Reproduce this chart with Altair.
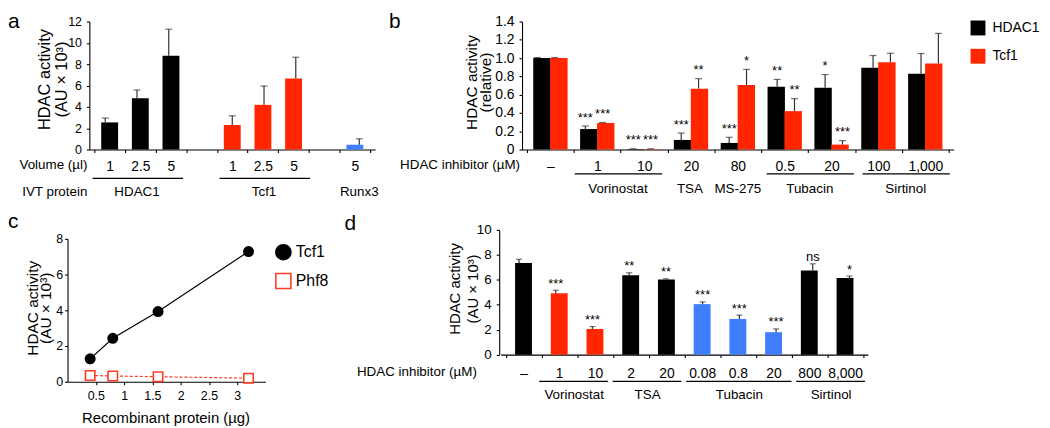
import altair as alt
import pandas as pd

FONT = "Liberation Sans"
BLACK = "#000000"
RED = "#ff2600"
RED2 = "#ff3b2a"
BLUE = "#3f7fff"
ERR = "#333333"
W, H = 1042, 420

# ---------------- panel a data ----------------
a_proteins = ["HDAC1", "Tcf1", "Runx3"]
a_volumes = [["1", "2.5", "5"], ["1", "2.5", "5"], ["5"]]
a_mean = [[2.54, 4.81, 8.8], [2.3, 4.19, 6.65], [0.45]]
a_top = [[2.95, 5.58, 11.28], [3.16, 5.95, 8.65], [1.0]]

# ---------------- panel b data ----------------
b_conc = ["–", "1", "10", "20", "80", "0.5", "20", "100", "1,000"]
b_drug = [None, "Vorinostat", "Vorinostat", "TSA", "MS-275", "Tubacin", "Tubacin", "Sirtinol", "Sirtinol"]
b_series = ["HDAC1", "Tcf1"]
b_hdac1 = [1.0, 0.224, 0.005, 0.105, 0.072, 0.687, 0.676, 0.894, 0.83]
b_hdac1_top = [1.006, 0.257, 0.008, 0.18, 0.134, 0.767, 0.82, 1.028, 1.05]
b_hdac1_sig = ["", "***", "***", "***", "***", "**", "*", "", ""]
b_tcf1 = [1.0, 0.29, 0.005, 0.666, 0.705, 0.42, 0.054, 0.955, 0.94]
b_tcf1_top = [1.006, 0.296, 0.008, 0.775, 0.876, 0.557, 0.098, 1.053, 1.27]
b_tcf1_sig = ["", "***", "***", "**", "*", "**", "***", "", ""]

# ---------------- panel c data ----------------
c_proteins = ["Tcf1", "Phf8"]
c_ug = [0.4, 0.8, 1.6, 3.2]
c_tcf1 = [1.28, 2.43, 3.93, 7.29]
c_phf8 = [0.35, 0.32, 0.28, 0.2]

# ---------------- panel d data ----------------
d_conc = ["–", "1", "10", "2", "20", "0.08", "0.8", "20", "800", "8,000"]
d_drug = ["control", "Vorinostat", "Vorinostat", "TSA", "TSA", "Tubacin", "Tubacin", "Tubacin", "Sirtinol", "Sirtinol"]
d_mean = [7.35, 4.92, 2.06, 6.37, 6.03, 4.05, 2.86, 1.8, 6.74, 6.14]
d_top = [7.65, 5.16, 2.25, 6.56, 6.08, 4.23, 3.17, 2.06, 7.28, 6.3]
d_sig = ["", "***", "***", "**", "**", "***", "***", "***", "ns", "*"]


def spans(names):
    out = []
    for i, n in enumerate(names):
        if n is None:
            continue
        if out and out[-1]["name"] == n and out[-1]["end"] == i - 1:
            out[-1]["end"] = i
        else:
            out.append({"name": n, "start": i, "end": i})
    for g in out:
        g["mid"] = (g["start"] + g["end"]) / 2
    return pd.DataFrame(out)


def cat_x(field, labels, rng, y0=None, pad=7, axis=True):
    n = len(labels)
    scale = alt.Scale(domain=[-0.5, n - 0.5], range=rng, nice=False, zero=False)
    if not axis:
        return alt.X(f"{field}:Q", scale=scale, axis=None)
    vals = [k / 2 - 0.5 for k in range(2 * n + 1)]
    arr = "[" + ",".join("'" + s + "'" for s in labels) + "]"
    ax = alt.Axis(
        orient="bottom", offset=y0 - H, values=vals,
        labelExpr=f"datum.value % 1 == 0 ? {arr}[datum.value] : ''",
        tickOpacity={"condition": {"test": "datum.value % 1 != 0", "value": 1}, "value": 0},
        tickSize=3, labelPadding=pad, labelFontSize=14, labelOverlap=False,
        labelFlush=False, title=None, grid=False,
    )
    return alt.X(f"{field}:Q", scale=scale, axis=ax)


def val_y(field, domain, rng, axis=None):
    return alt.Y(f"{field}:Q", scale=alt.Scale(domain=domain, range=rng, nice=False, zero=False),
                 axis=axis, stack=None)


def text_df(s):
    return pd.DataFrame({"t": [s]})


def row_label(s, labels, rng, y, dx, size=13.5):
    return alt.Chart(text_df(s)).transform_calculate(x0="-0.5").mark_text(
        fontSize=size, align="right", baseline="middle", dx=dx).encode(
        x=cat_x("x0", labels, rng, axis=False), y=alt.value(y), text="t:N")


# ================= panel a =================
a_rows, a_labels, a_slot = [], [], []
i = 0
for gi, (p, vols, ms, ts) in enumerate(zip(a_proteins, a_volumes, a_mean, a_top)):
    if gi > 0:
        a_labels.append("")
        a_slot.append(None)
        i += 1
    for v, m, t in zip(vols, ms, ts):
        a_rows.append(dict(idx=i, protein=p, volume=v, mean=m, top=t))
        a_labels.append(v)
        a_slot.append(p)
        i += 1
a_df = pd.DataFrame(a_rows)
a_groups = spans(a_slot)
a_xr, a_yr, a_dom = [82, 370], [141, 12], [0, 12]

a_yaxis = alt.Axis(orient="left", offset=-82, values=list(range(0, 13, 2)), tickSize=3, labelPadding=5,
                   labelFontSize=12.5, title=["HDAC activity", "(AU × 10³)"], titleX=-45.5, titleY=70,
                   titleAngle=270, titleAlign="center", titleBaseline="middle", titleFontSize=16.5,
                   titleLineHeight=17, titleFontWeight="normal", grid=False)
a_bars = alt.Chart(a_df).mark_bar(width=17).encode(
    x=cat_x("idx", a_labels, a_xr, 141, 7),
    y=val_y("mean", a_dom, a_yr, a_yaxis),
    color=alt.Color("protein:N", scale=alt.Scale(domain=a_proteins, range=[BLACK, RED, BLUE]), legend=None),
)
a_err = alt.Chart(a_df).mark_rule(color=ERR, strokeWidth=1.2).encode(
    x=cat_x("idx", a_labels, a_xr, axis=False), y=val_y("mean", a_dom, a_yr), y2="top:Q")
a_cap = alt.Chart(a_df).mark_tick(orient="horizontal", size=7, thickness=1.2, color=ERR).encode(
    x=cat_x("idx", a_labels, a_xr, axis=False), y=val_y("top", a_dom, a_yr))
a_under = alt.Chart(a_groups).transform_filter("datum.end > datum.start").transform_calculate(
    x0="datum.start - 0.4", x1="datum.end + 0.45").mark_rule(color=BLACK, strokeWidth=1.2).encode(
    x=cat_x("x0", a_labels, a_xr, axis=False), x2="x1:Q", y=alt.value(170))
a_glab = alt.Chart(a_groups).mark_text(fontSize=13.5, baseline="middle").encode(
    x=cat_x("mid", a_labels, a_xr, axis=False), y=alt.value(184), text="name:N")
a_row1 = row_label("Volume (µl)", a_labels, a_xr, 157, -2)
a_row2 = row_label("IVT protein", a_labels, a_xr, 184, -2)
panel_a = [a_bars, a_err, a_cap, a_under, a_glab, a_row1, a_row2]

# ================= panel b =================
b_rows = []
for s, means, tops, sigs in [("HDAC1", b_hdac1, b_hdac1_top, b_hdac1_sig),
                             ("Tcf1", b_tcf1, b_tcf1_top, b_tcf1_sig)]:
    for k in range(len(b_conc)):
        b_rows.append(dict(idx=k, series=s, mean=means[k], top=tops[k], sig=sigs[k]))
b_df = pd.DataFrame(b_rows)
b_groups = spans(b_drug)
b_xr, b_yr, b_dom = [518, 953], [141, 12], [0, 1.4]
b_base = alt.Chart(b_df).transform_calculate(pos="datum.idx + (datum.series == 'HDAC1' ? -0.181 : 0.181)")

b_yaxis = alt.Axis(orient="left", offset=-518, values=[round(0.2 * k, 1) for k in range(8)],
                   labelExpr="datum.value == 0 ? '0' : format(datum.value, '.1f')",
                   tickSize=3, labelPadding=5, labelFontSize=14, title=["HDAC activity", "(relative)"],
                   titleX=-51, titleY=73, titleAngle=270, titleAlign="center", titleBaseline="middle",
                   titleFontSize=15.5, titleLineHeight=14.5, titleFontWeight="normal", grid=False)
b_legend = alt.Legend(orient="none", legendX=970, legendY=11, title=None, symbolType="square",
                      symbolSize=225, symbolStrokeWidth=0, labelFontSize=14, labelOffset=7,
                      rowPadding=13.5, padding=0, labelFont=FONT)
b_bars = b_base.mark_bar(width=17.5).encode(
    x=cat_x("pos", b_conc, b_xr, 141, 7),
    y=val_y("mean", b_dom, b_yr, b_yaxis),
    color=alt.Color("series:N", scale=alt.Scale(domain=b_series, range=[BLACK, RED]), legend=b_legend),
)
b_err = b_base.mark_rule(color=ERR, strokeWidth=1.2).encode(
    x=cat_x("pos", b_conc, b_xr, axis=False), y=val_y("mean", b_dom, b_yr), y2="top:Q")
b_cap = b_base.mark_tick(orient="horizontal", size=7, thickness=1.2, color=ERR).encode(
    x=cat_x("pos", b_conc, b_xr, axis=False), y=val_y("top", b_dom, b_yr))
b_sig = b_base.mark_text(fontSize=13, baseline="alphabetic", dy=-4.5).encode(
    x=cat_x("pos", b_conc, b_xr, axis=False), y=val_y("top", b_dom, b_yr), text="sig:N")
b_under = alt.Chart(b_groups).transform_filter("datum.end > datum.start").transform_calculate(
    x0="datum.start - 0.4", x1="datum.end + 0.42").mark_rule(color=BLACK, strokeWidth=1.2).encode(
    x=cat_x("x0", b_conc, b_xr, axis=False), x2="x1:Q", y=alt.value(165.5))
b_glab = alt.Chart(b_groups).mark_text(fontSize=13.5, baseline="middle").encode(
    x=cat_x("mid", b_conc, b_xr, axis=False), y=alt.value(180.5), text="name:N")
b_row = row_label("HDAC inhibitor (µM)", b_conc, b_xr, 157, -2)
panel_b = [b_bars, b_err, b_cap, b_sig, b_under, b_glab, b_row]

# ================= panel c =================
c_rows = [dict(ug=u, protein="Tcf1", act=v) for u, v in zip(c_ug, c_tcf1)] + \
         [dict(ug=u, protein="Phf8", act=v) for u, v in zip(c_ug, c_phf8)]
c_df = pd.DataFrame(c_rows)
c_xscale = alt.Scale(domain=[0, 3.5], range=[60, 259.5], nice=False, zero=False)
c_yscale = alt.Scale(domain=[0, 8], range=[375, 231], nice=False, zero=False)
c_xaxis = alt.Axis(orient="bottom", offset=375 - H, values=[0.5, 1, 1.5, 2, 2.5, 3], format="~g",
                   tickSize=3, labelPadding=5, labelFontSize=12.5, labelFlush=False,
                   title="Recombinant protein (µg)", titleX=158.7, titleY=36, titleAlign="center",
                   titleBaseline="middle", titleFontSize=15, titleFontWeight="normal", grid=False)
c_yaxis = alt.Axis(orient="left", offset=-60, values=[0, 2, 4, 6, 8], tickSize=3, labelPadding=2,
                   labelFontSize=12.5, title=["HDAC activity", "(AU × 10³)"], titleX=-35.5, titleY=300.5,
                   titleAngle=270, titleAlign="center", titleBaseline="middle", titleFontSize=15.5,
                   titleLineHeight=13.5, titleFontWeight="normal", grid=False)
c_legend = alt.Legend(orient="none", legendX=269, legendY=236, title=None, symbolSize=230,
                      symbolStrokeWidth=1.6, labelFontSize=16, labelOffset=4, rowPadding=6,
                      padding=0, labelFont=FONT)
c_base = alt.Chart(c_df)
c_line_t = c_base.transform_filter("datum.protein == 'Tcf1'").mark_line(color=BLACK, strokeWidth=1.2).encode(
    x=alt.X("ug:Q", scale=c_xscale, axis=c_xaxis), y=alt.Y("act:Q", scale=c_yscale, axis=c_yaxis))
c_line_p = c_base.transform_filter("datum.protein == 'Phf8'").mark_line(
    color=RED2, strokeWidth=1.2, strokeDash=[3, 2]).encode(
    x=alt.X("ug:Q", scale=c_xscale, axis=None), y=alt.Y("act:Q", scale=c_yscale, axis=None))
c_pts = c_base.mark_point(size=90, opacity=1, strokeWidth=1.6).encode(
    x=alt.X("ug:Q", scale=c_xscale, axis=None),
    y=alt.Y("act:Q", scale=c_yscale, axis=None),
    shape=alt.Shape("protein:N", scale=alt.Scale(domain=c_proteins, range=["circle", "square"]), legend=c_legend),
    fill=alt.Fill("protein:N", scale=alt.Scale(domain=c_proteins, range=[BLACK, "#ffffff"]), legend=c_legend),
    stroke=alt.Stroke("protein:N", scale=alt.Scale(domain=c_proteins, range=[BLACK, RED2]), legend=c_legend),
)
panel_c = [c_line_t, c_line_p, c_pts]

# ================= panel d =================
d_df = pd.DataFrame(dict(idx=list(range(len(d_conc))), drug=d_drug, mean=d_mean, top=d_top, sig=d_sig))
d_groups = spans([None if g == "control" else g for g in d_drug])
d_xr, d_yr, d_dom = [496.5, 866.5], [347.7, 222], [0, 10]
d_yaxis = alt.Axis(orient="left", offset=-495, values=[0, 2, 4, 6, 8, 10], tickSize=3, labelPadding=5,
                   labelFontSize=13.5, title=["HDAC activity", "(AU × 10³)"], titleX=-45, titleY=281,
                   titleAngle=270, titleAlign="center", titleBaseline="middle", titleFontSize=15,
                   titleLineHeight=18, titleFontWeight="normal", grid=False)
d_bars = alt.Chart(d_df).mark_bar(width=17).encode(
    x=cat_x("idx", d_conc, d_xr, 347.7, 8.6),
    y=val_y("mean", d_dom, d_yr, d_yaxis),
    color=alt.Color("drug:N", scale=alt.Scale(domain=["control", "Vorinostat", "TSA", "Tubacin", "Sirtinol"],
                                              range=[BLACK, RED, BLACK, BLUE, BLACK]), legend=None),
)
d_err = alt.Chart(d_df).mark_rule(color=ERR, strokeWidth=1.2).encode(
    x=cat_x("idx", d_conc, d_xr, axis=False), y=val_y("mean", d_dom, d_yr), y2="top:Q")
d_cap = alt.Chart(d_df).mark_tick(orient="horizontal", size=6, thickness=1.2, color=ERR).encode(
    x=cat_x("idx", d_conc, d_xr, axis=False), y=val_y("top", d_dom, d_yr))
d_sigt = alt.Chart(d_df).mark_text(fontSize=13, baseline="alphabetic", dy=-2.5).encode(
    x=cat_x("idx", d_conc, d_xr, axis=False), y=val_y("top", d_dom, d_yr), text="sig:N")
d_under = alt.Chart(d_groups).transform_calculate(
    x0="datum.start - 0.45", x1="datum.end + 0.42").mark_rule(color=BLACK, strokeWidth=1.2).encode(
    x=cat_x("x0", d_conc, d_xr, axis=False), x2="x1:Q", y=alt.value(374.7))
d_glab = alt.Chart(d_groups).mark_text(fontSize=13.5, baseline="middle").encode(
    x=cat_x("mid", d_conc, d_xr, axis=False), y=alt.value(388), text="name:N")
d_row = row_label("HDAC inhibitor (µM)", d_conc, d_xr, 365.3, -24)
panel_d = [d_bars, d_err, d_cap, d_sigt, d_under, d_glab, d_row]


# ================= panel letters =================
def letter(ch, x, y):
    return alt.Chart(text_df(ch)).mark_text(fontSize=21, align="left", baseline="alphabetic").encode(
        x=alt.value(x), y=alt.value(y), text="t:N")


letters = [letter("a", 0, 19), letter("b", 384, 19), letter("c", 0, 220), letter("d", 339, 222)]

chart = alt.layer(*panel_a, *panel_b, *panel_c, *panel_d, *letters).resolve_scale(
    x="independent", y="independent", color="independent", fill="independent",
    stroke="independent", shape="independent"
).properties(
    width=W, height=H, autosize="none", padding=0
).configure_view(stroke=None).configure_axis(
    domainColor=BLACK, tickColor=BLACK, labelColor=BLACK, titleColor=BLACK,
    labelFont=FONT, titleFont=FONT, domainWidth=1.1, tickWidth=1.1, grid=False
).configure_text(font=FONT, color=BLACK).configure_legend(labelFont=FONT, labelColor=BLACK)

chart.save("out.html", embed_options={"renderer": "svg", "actions": False})
